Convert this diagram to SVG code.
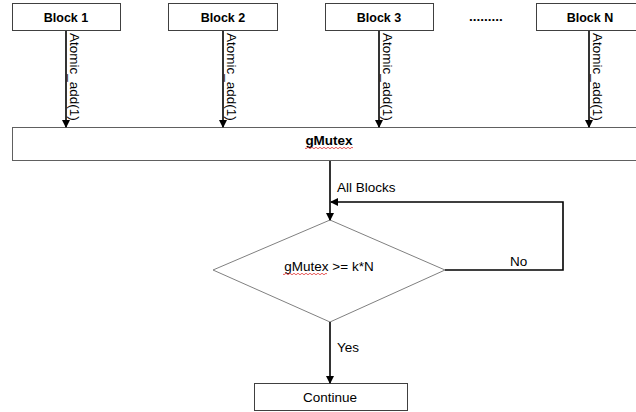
<svg xmlns="http://www.w3.org/2000/svg" width="636" height="412" viewBox="0 0 636 412">
<defs>
<marker id="ah" markerWidth="8" markerHeight="8" refX="7" refY="4" orient="auto" markerUnits="userSpaceOnUse">
<path d="M0,0 L8,4 L0,8 Z" fill="#000"/>
</marker>
<style>
.box{fill:#fff;stroke:#404040;stroke-width:1}
.t{font-family:"Liberation Sans",Arial,sans-serif;font-size:13.5px;fill:#000}
.b{font-weight:bold;font-size:12.5px}
.r{font-size:13.5px}
.c{stroke:#000;stroke-width:1.6;fill:none}
.sq{stroke:#e03030;stroke-width:0.8;fill:none}
</style>
</defs>
<rect width="636" height="412" fill="#fff"/>
<g id="block1"><rect class="box" x="12.5" y="3.5" width="108" height="27"/><text class="t b" x="66" y="21.5" text-anchor="middle">Block 1</text></g>
<g id="block2"><rect class="box" x="168.5" y="3.5" width="109" height="27"/><text class="t b" x="223" y="21.5" text-anchor="middle">Block 2</text></g>
<g id="block3"><rect class="box" x="325.5" y="3.5" width="108" height="27"/><text class="t b" x="379" y="21.5" text-anchor="middle">Block 3</text></g>
<g id="dots"><text class="t b" x="486" y="20.5" text-anchor="middle" style="font-size:13.5px">.........</text></g>
<g id="blockN"><rect class="box" x="536.5" y="3.5" width="104" height="27"/><text class="t b" x="590" y="21.5" text-anchor="middle">Block N</text></g>
<g id="gmutex"><rect class="box" x="12.5" y="127.5" width="630" height="33" style="stroke:#606060"/><text class="t b" x="329" y="145" text-anchor="middle" style="font-size:13.5px">gMutex</text>
<path class="sq" d="M305,148 q1,1.5 2,0 t2,0 t2,0 t2,0 t2,0 t2,0 t2,0 t2,0 t2,0 t2,0 t2,0 t2,0 t2,0 t2,0 t2,0 t2,0 t2,0 t2,0 t2,0 t2,0 t2,0 t2,0 t2,0 t2,0"/></g>
<g id="decision"><polygon points="213,270 330,220 445,270 330,322" fill="#fff" stroke="#808080" stroke-width="1"/><text class="t" x="329" y="270.5" text-anchor="middle">gMutex &gt;= k*N</text>
<path class="sq" d="M283,274 q1,1.5 2,0 t2,0 t2,0 t2,0 t2,0 t2,0 t2,0 t2,0 t2,0 t2,0 t2,0 t2,0 t2,0 t2,0 t2,0 t2,0 t2,0 t2,0 t2,0 t2,0 t2,0 t2,0"/></g>
<g id="continue"><rect class="box" x="254.5" y="383.5" width="153" height="27"/><text class="t" x="330" y="402" text-anchor="middle">Continue</text></g>
<g id="connectors">
<line class="c" x1="66" y1="31" x2="66" y2="127" marker-end="url(#ah)"/>
<line class="c" x1="223" y1="31" x2="223" y2="127" marker-end="url(#ah)"/>
<line class="c" x1="379" y1="31" x2="379" y2="127" marker-end="url(#ah)"/>
<line class="c" x1="589" y1="31" x2="589" y2="127" marker-end="url(#ah)"/>
<text class="t r" transform="translate(70,33) rotate(90)">Atomic_add(1)</text>
<text class="t r" transform="translate(227,33) rotate(90)">Atomic_add(1)</text>
<text class="t r" transform="translate(383,33) rotate(90)">Atomic_add(1)</text>
<text class="t r" transform="translate(593,33) rotate(90)">Atomic_add(1)</text>
<line class="c" x1="330" y1="161" x2="330" y2="220" marker-end="url(#ah)"/>
<text class="t" x="337" y="192">All Blocks</text>
<polyline class="c" points="445,270 563,270 563,202 331,202" marker-end="url(#ah)"/>
<text class="t" x="510" y="266">No</text>
<line class="c" x1="330" y1="322" x2="330" y2="383" marker-end="url(#ah)"/>
<text class="t" x="337" y="352">Yes</text>
</g>
</svg>
